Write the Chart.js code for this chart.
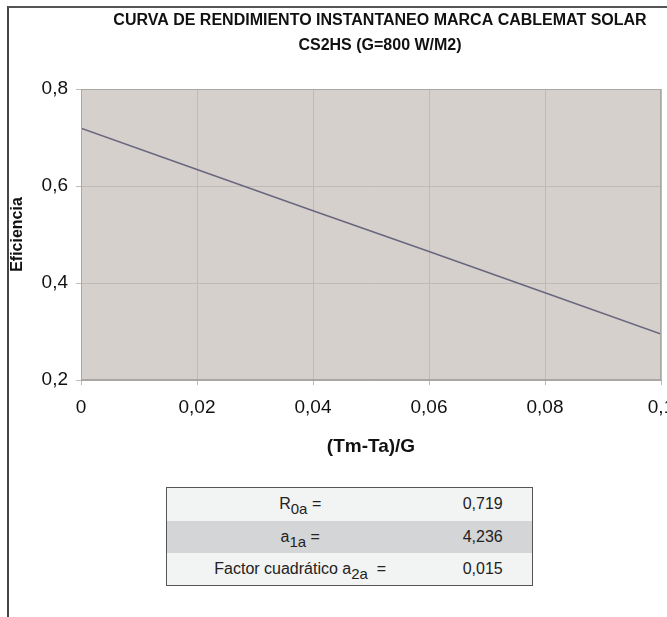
<!DOCTYPE html>
<html>
<head>
<meta charset="utf-8">
<script src="https://cdn.jsdelivr.net/npm/chart.js@4.4.1/dist/chart.umd.min.js"></script>
<style>
  html, body { margin: 0; padding: 0; background: #ffffff; overflow: hidden; width: 667px; height: 617px; }
  #frame { position: absolute; left: 7px; top: 6px; width: 720px; height: 640px;
           border-left: 2px solid #464646; border-top: 2px solid #555555; }
  #wrap { position: absolute; left: 0; top: 0; width: 760px; height: 470px; }
  #coef { position: absolute; left: 166px; top: 487px; width: 367px; border-collapse: collapse;
          border: 1px solid #555555; font-family: "Liberation Sans", Arial, sans-serif; font-size: 16px; color: #222; }
  #coef td { padding: 0; text-align: center; }
  #coef td.lab { width: 268px; }
  #coef td.val { width: 99px; }
  #coef tr.light { background: #f2f3f3; }
  #coef tr.dark { background: #d4d5d6; }
  #coef sub { font-size: 15px; vertical-align: -5px; line-height: 0; }
</style>
</head>
<body>
<div id="frame"></div>
<div id="wrap"><canvas id="c" width="760" height="470"></canvas></div>
<table id="coef"><tbody id="coefBody"></tbody></table>
<script>
// ---- data ----
const titleLines = ["CURVA DE RENDIMIENTO INSTANTANEO MARCA CABLEMAT SOLAR", "CS2HS (G=800 W/M2)"];
const xValues = [0, 0.02, 0.04, 0.06, 0.08, 0.1];
const effValues = [0.719, 0.634, 0.549, 0.465, 0.380, 0.295];
const xTicks = [0, 0.02, 0.04, 0.06, 0.08, 0.1];
const yTicks = [0.2, 0.4, 0.6, 0.8];
const xTitle = "(Tm-Ta)/G";
const yTitle = "Eficiencia";
const coefLabels = ["R<sub>0a</sub> =", "a<sub>1a</sub> =", "Factor cuadrático a<sub>2a</sub> &nbsp;="];
const coefValues = ["0,719", "4,236", "0,015"];
const rowClasses = ["light", "dark", "light"];

// ---- table ----
const heights = [33, 32, 33];
const body = document.getElementById('coefBody');
coefLabels.forEach((lab, i) => {
  const tr = document.createElement('tr');
  tr.className = rowClasses[i];
  tr.style.height = heights[i] + 'px';
  tr.innerHTML = '<td class="lab">' + lab + '</td><td class="val">' + coefValues[i] + '</td>';
  body.appendChild(tr);
});

const fmt = v => {
  const r = Math.round(v * 100) / 100;
  return String(r).replace('.', ',');
};

const plotBg = {
  id: 'plotBg',
  beforeDraw(chart) {
    const {ctx, chartArea: a} = chart;
    ctx.save();
    ctx.fillStyle = '#d6d0cc';
    ctx.fillRect(a.left, a.top, a.right - a.left, a.bottom - a.top);
    ctx.restore();
  },
  afterDatasetsDraw(chart) {
    const {ctx, chartArea: a} = chart;
    ctx.save();
    ctx.strokeStyle = '#aaa6a2';
    ctx.lineWidth = 1;
    ctx.strokeRect(a.left + 0.5, a.top + 0.5, a.right - a.left - 1, a.bottom - a.top - 1);
    ctx.restore();
  }
};

const FONT = '"Liberation Sans", Arial, sans-serif';

new Chart(document.getElementById('c'), {
  type: 'line',
  data: {
    datasets: [{
      data: xValues.map((x, i) => ({x: x, y: effValues[i]})),
      borderColor: '#68677e',
      borderWidth: 1.5,
      pointRadius: 0,
      tension: 0,
      fill: false
    }]
  },
  options: {
    responsive: false,
    animation: false,
    devicePixelRatio: 1,
    layout: { padding: 0 },
    plugins: {
      legend: { display: false },
      tooltip: { enabled: false },
      title: {
        display: true,
        text: titleLines,
        color: '#111111',
        font: { family: FONT, size: 16, weight: 'bold', lineHeight: '25px' },
        padding: { top: 8.5, bottom: 30.5 }
      }
    },
    scales: {
      x: {
        type: 'linear',
        min: 0, max: 0.1,
        afterBuildTicks: s => { s.ticks = xTicks.map(v => ({value: v})); },
        afterFit: s => { s.height = 90; },
        ticks: {
          callback: v => fmt(v),
          color: '#111111',
          font: { family: FONT, size: 19 },
          padding: 11,
          maxRotation: 0,
          autoSkip: false
        },
        grid: { color: '#bfbab6', lineWidth: 1, tickLength: 5, drawTicks: true },
        border: { display: true, color: '#aaa6a2' },
        title: {
          display: true,
          text: xTitle,
          color: '#111111',
          font: { family: FONT, size: 19, weight: 'bold' },
          padding: { top: 0, bottom: 11.6 }
        }
      },
      y: {
        type: 'linear',
        min: 0.2, max: 0.8,
        afterBuildTicks: s => { s.ticks = yTicks.map(v => ({value: v})); },
        afterFit: s => { s.width = 81; },
        ticks: {
          callback: v => fmt(v),
          color: '#111111',
          font: { family: FONT, size: 19 },
          padding: 8
        },
        grid: { color: '#bfbab6', lineWidth: 1, tickLength: 5, drawTicks: true },
        border: { display: true, color: '#aaa6a2' },
        title: {
          display: true,
          text: yTitle,
          color: '#111111',
          font: { family: FONT, size: 16, weight: 'bold' },
          padding: { top: 8.4, bottom: 0 }
        }
      },
      yPad: {
        type: 'linear',
        position: 'right',
        display: true,
        afterFit: s => { s.width = 99; },
        ticks: { display: false },
        grid: { display: false, drawOnChartArea: false },
        border: { display: false },
        title: { display: false }
      }
    }
  },
  plugins: [plotBg]
});
</script>
</body>
</html>
